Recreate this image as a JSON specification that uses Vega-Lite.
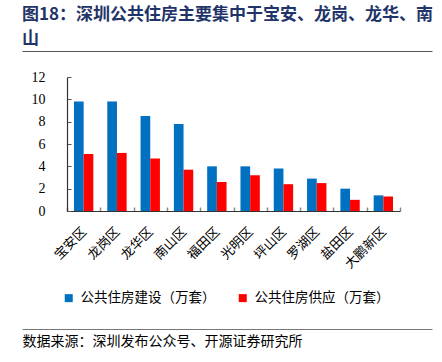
{
  "$schema": "https://vega.github.io/schema/vega-lite/v6.json",
  "width": 410,
  "height": 278,
  "padding": {"left": 22, "right": 10, "top": 6, "bottom": 8},
  "background": "white",
  "title": {
    "text": ["图18：深圳公共住房主要集中于宝安、龙岗、龙华、南", "山"],
    "anchor": "start",
    "font": "Noto Sans CJK SC",
    "fontSize": 17,
    "fontWeight": "bold",
    "color": "#1F3468",
    "lineHeight": 24,
    "offset": 3
  },
  "config": {"view": {"stroke": null}},
  "resolve": {"scale": {"x": "independent"}, "axis": {"x": "independent"}},
  "layer": [
    {
      "data": {"values": [
        {"district": "宝安区", "series": "公共住房建设（万套）", "value": 9.8},
        {"district": "宝安区", "series": "公共住房供应（万套）", "value": 5.1},
        {"district": "龙岗区", "series": "公共住房建设（万套）", "value": 9.8},
        {"district": "龙岗区", "series": "公共住房供应（万套）", "value": 5.2},
        {"district": "龙华区", "series": "公共住房建设（万套）", "value": 8.5},
        {"district": "龙华区", "series": "公共住房供应（万套）", "value": 4.7},
        {"district": "南山区", "series": "公共住房建设（万套）", "value": 7.8},
        {"district": "南山区", "series": "公共住房供应（万套）", "value": 3.7},
        {"district": "福田区", "series": "公共住房建设（万套）", "value": 4.0},
        {"district": "福田区", "series": "公共住房供应（万套）", "value": 2.6},
        {"district": "光明区", "series": "公共住房建设（万套）", "value": 4.0},
        {"district": "光明区", "series": "公共住房供应（万套）", "value": 3.2},
        {"district": "坪山区", "series": "公共住房建设（万套）", "value": 3.8},
        {"district": "坪山区", "series": "公共住房供应（万套）", "value": 2.4},
        {"district": "罗湖区", "series": "公共住房建设（万套）", "value": 2.9},
        {"district": "罗湖区", "series": "公共住房供应（万套）", "value": 2.5},
        {"district": "盐田区", "series": "公共住房建设（万套）", "value": 2.0},
        {"district": "盐田区", "series": "公共住房供应（万套）", "value": 1.0},
        {"district": "大鹏新区", "series": "公共住房建设（万套）", "value": 1.4},
        {"district": "大鹏新区", "series": "公共住房供应（万套）", "value": 1.3}
      ]},
      "mark": {"type": "bar"},
      "encoding": {
        "x": {
          "field": "district", "type": "nominal", "sort": null,
          "scale": {"range": [45, 378], "paddingInner": 0, "paddingOuter": 0},
          "axis": {
            "orient": "bottom", "offset": -118, "tickBand": "extent",
            "minExtent": 0, "maxExtent": 0,
            "domainColor": "#333", "domainWidth": 1.2,
            "tickColor": "#888", "tickSize": -4, "tickWidth": 1.5,
            "labelAngle": -45, "labelFont": "Noto Sans CJK SC", "labelFontSize": 13,
            "labelColor": "#000", "labelPadding": 18, "labelOffset": -4, "title": null, "grid": false
          }
        },
        "xOffset": {
          "field": "series", "type": "nominal",
          "sort": ["公共住房建设（万套）", "公共住房供应（万套）"],
          "scale": {"paddingInner": 0, "paddingOuter": 0.72}
        },
        "y": {
          "field": "value", "type": "quantitative",
          "scale": {"domain": [0, 12], "range": [160, 26], "nice": false},
          "axis": {
            "orient": "left", "offset": -45, "values": [0, 2, 4, 6, 8, 10, 12],
            "minExtent": 0, "maxExtent": 0,
            "domainColor": "#333", "domainWidth": 1.2,
            "tickColor": "#555", "tickSize": -4,
            "labelFont": "Liberation Serif", "labelFontSize": 14, "labelColor": "#000",
            "labelPadding": 26, "grid": false, "title": null
          }
        },
        "color": {
          "field": "series", "type": "nominal",
          "scale": {"domain": ["公共住房建设（万套）", "公共住房供应（万套）"], "range": ["#0070C0", "#FF0000"]},
          "legend": {
            "orient": "none", "legendX": 40, "legendY": 240, "direction": "horizontal",
            "title": null, "symbolType": "square", "symbolSize": 64, "symbolStrokeWidth": 0,
            "labelFont": "Noto Sans CJK SC", "labelFontSize": 13.5, "labelColor": "#000",
            "columnPadding": 20, "labelOffset": 5
          }
        }
      }
    },
    {
      "data": {"values": [{"v": 0.5}]},
      "mark": {"type": "point", "opacity": 0, "size": 0, "strokeWidth": 0},
      "encoding": {
        "x": {
          "field": "v", "type": "quantitative", "scale": {"domain": [0, 1]},
          "axis": {"orient": "top", "minExtent": 0, "maxExtent": 0, "domainColor": "#555", "domainWidth": 1.2, "ticks": false, "labels": false, "grid": false, "title": null}
        }
      }
    },
    {
      "data": {"values": [{"v": 0.5}]},
      "mark": {"type": "point", "opacity": 0, "size": 0, "strokeWidth": 0},
      "encoding": {
        "x": {
          "field": "v", "type": "quantitative", "scale": {"domain": [0, 1]},
          "axis": {
            "orient": "bottom", "minExtent": 0, "domainColor": "#777", "domainWidth": 1.2, "ticks": false, "labels": false, "grid": false,
            "title": "数据来源：深圳发布公众号、开源证券研究所", "titleAnchor": "start", "titleAlign": "left",
            "titleFont": "Noto Sans CJK SC", "titleFontSize": 14, "titleFontWeight": "normal", "titleColor": "#000", "titlePadding": 5
          }
        }
      }
    }
  ]
}
